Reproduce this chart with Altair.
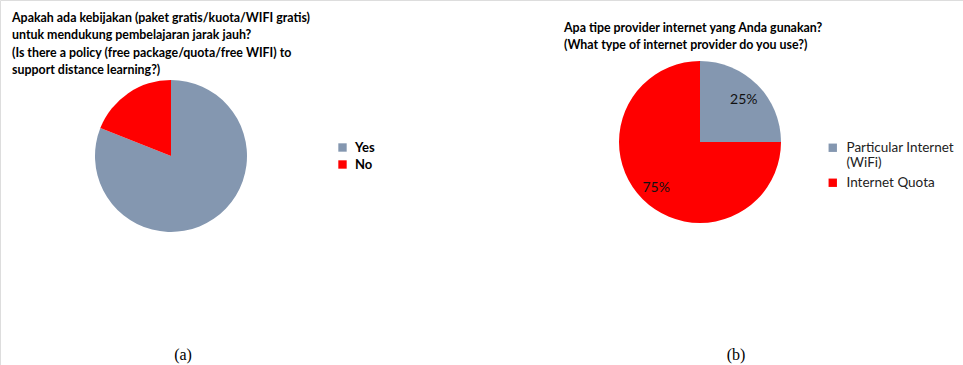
import altair as alt
import pandas as pd

FONT = "Lato"
GRAY = "#8497B0"
RED = "#FF0000"

# Chart (a)
a_cats = ["Yes", "No"]
a_vals = [81, 19]
a_title = ["Apakah ada kebijakan (paket gratis/kuota/WIFI gratis)",
           "untuk  mendukung pembelajaran jarak jauh?",
           "(Is there a policy (free package/quota/free WIFI) to",
           "support distance learning?)"]

# Chart (b)
b_cats = ["Particular Internet (WiFi)", "Internet Quota"]
b_vals = [25, 75]
b_labels = ["25%", "75%"]
b_title = ["Apa tipe provider internet yang Anda gunakan?",
           "(What type of internet provider do you use?)"]

captions = ["(a)", "(b)"]

df_a = pd.DataFrame({"cat": a_cats, "val": a_vals, "ord": [0, 1]})
df_b = pd.DataFrame({"cat": b_cats, "val": b_vals, "lab": b_labels, "ord": [0, 1]})

pie_a = alt.Chart(df_a).mark_arc(radius=76).encode(
    theta=alt.Theta("val:Q", stack=True),
    order=alt.Order("ord:Q"),
    color=alt.Color("cat:N", sort=a_cats,
                    scale=alt.Scale(domain=a_cats, range=[GRAY, RED]),
                    legend=alt.Legend(title=None, orient="none", legendX=336, legendY=141,
                                      symbolType="square", symbolSize=70, symbolStrokeWidth=0,
                                      labelFont=FONT, labelFontSize=13, labelFontWeight="bold",
                                      labelColor="#000", rowPadding=3, labelOffset=6)),
    x=alt.value(171), y=alt.value(156),
)

pie_b = alt.Chart(df_b).mark_arc(radius=81).encode(
    theta=alt.Theta("val:Q", stack=True),
    order=alt.Order("ord:Q"),
    color=alt.Color("cat:N", sort=b_cats,
                    scale=alt.Scale(domain=b_cats, range=[GRAY, RED]),
                    legend=alt.Legend(title=None, orient="none", legendX=826, legendY=141,
                                      symbolType="square", symbolSize=70, symbolStrokeWidth=0,
                                      labelFont=FONT, labelFontSize=13.5, labelColor="#222",
                                      labelLimit=300, rowPadding=5, labelOffset=7,
                                      labelExpr="datum.label == 'Particular Internet (WiFi)' ? ['Particular Internet', '(WiFi)'] : datum.label")),
    x=alt.value(700), y=alt.value(142),
)

lab_b = alt.Chart(df_b).mark_text(radius=62, dy=2, font=FONT, fontSize=14, color="#111").encode(
    theta=alt.Theta("val:Q", stack=True),
    order=alt.Order("ord:Q"),
    text="lab:N",
    x=alt.value(700), y=alt.value(142),
)

title_a = alt.Chart(pd.DataFrame({"t": [a_title]})).mark_text(
    align="left", baseline="top", font=FONT, fontSize=12.4, fontWeight="bold",
    lineHeight=17.4, color="#000").encode(
    text="t", x=alt.value(12), y=alt.value(12))

title_b = alt.Chart(pd.DataFrame({"t": [b_title]})).mark_text(
    align="left", baseline="top", font=FONT, fontSize=12.4, fontWeight="bold",
    lineHeight=17.4, color="#000").encode(
    text="t", x=alt.value(564), y=alt.value(22))

cap = alt.Chart(pd.DataFrame({"t": captions, "x": [183, 736]})).mark_text(
    font="Liberation Serif", fontSize=16, color="#000", baseline="middle").encode(
    text="t:N", x=alt.X("x:Q", scale=alt.Scale(domain=[0, 963]), axis=None),
    y=alt.value(355))

chart = alt.layer(pie_a, pie_b, lab_b, title_a, title_b, cap).resolve_scale(
    color="independent", theta="independent", x="independent"
).properties(
    width=963, height=365, padding=0, autosize=alt.AutoSizeParams(type="none")
).configure_view(stroke=None).configure(background="white")

chart.save("out.html", embed_options={"renderer": "svg", "actions": False})
